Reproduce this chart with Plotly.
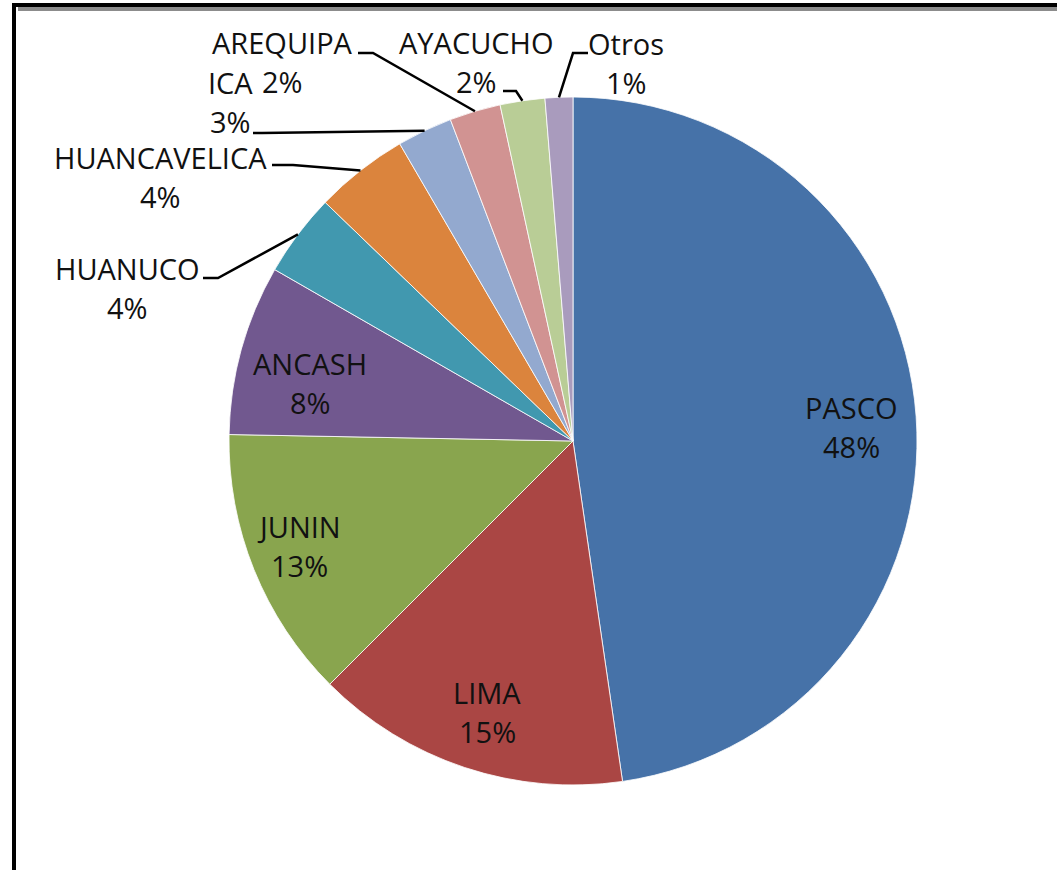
import math
import plotly.graph_objects as go

# ---- data ----
categories = ["PASCO", "LIMA", "JUNIN", "ANCASH", "HUANUCO", "HUANCAVELICA",
              "ICA", "AREQUIPA", "AYACUCHO", "Otros"]
values = [47.7, 14.8, 12.8, 8.0, 3.9, 4.4, 2.6, 2.4, 2.1, 1.3]
colors = ["#4672A8", "#AA4644", "#89A54E", "#71588F", "#4198AF", "#DB843D",
          "#93A9CF", "#D19392", "#B9CD96", "#A99BBD"]

# ---- layout geometry (pixels) ----
W, H = 1057, 870
CX, CY, R = 573, 441, 344
LINE_GAP = 39
FONT = dict(family="Open Sans, Arial, sans-serif", size=29, color="#111111")

# inside label centres
inside_pos = {
    "PASCO": (851, 427),
    "LIMA": (487, 712),
    "JUNIN": (299, 546),
    "ANCASH": (310, 383),
}
# outside label placement: text centre, line start, elbow
outside_pos = {
    "HUANUCO":      dict(c=(127, 288), s=(203, 278), e=(218, 278)),
    "HUANCAVELICA": dict(c=(160, 177), s=(272, 165), e=(293, 165)),
    "ICA":          dict(c=(230, 102), s=(253, 133), e=(262, 133)),
    "AREQUIPA":     dict(c=(282, 62),  s=(358, 53),  e=(373, 53)),
    "AYACUCHO":     dict(c=(476, 62),  s=(503, 91),  e=(516, 91)),
    "Otros":        dict(c=(626, 63),  s=(588, 53),  e=(573, 53)),
}


def px(x):
    return x / W


def py(y):
    return 1 - y / H


def label(x, y, name, pct):
    out = []
    for txt, dy in ((name, -LINE_GAP / 2), (f"{pct}%", LINE_GAP / 2)):
        out.append(dict(x=px(x), y=py(y + dy), xref="paper", yref="paper",
                        text=txt, showarrow=False, font=FONT,
                        xanchor="center", yanchor="middle", align="center"))
    return out


total = sum(values)
fig = go.Figure(go.Pie(
    labels=categories, values=values, sort=False, direction="clockwise",
    rotation=0, textinfo="none", hoverinfo="label+percent",
    marker=dict(colors=colors, line=dict(color="rgba(255,255,255,0.8)", width=1)),
    domain=dict(x=[px(CX - R), px(CX + R)], y=[py(CY + R), py(CY - R)]),
    showlegend=False,
))

annotations = []
shapes = []
cum = 0.0
for cat, v in zip(categories, values):
    mid = (cum + v / 2) / total * 2 * math.pi
    cum += v
    pct = round(v / total * 100)
    if cat in inside_pos:
        x, y = inside_pos[cat]
        annotations += label(x, y, cat, pct)
    else:
        p = outside_pos[cat]
        ax = CX + R * math.sin(mid)
        ay = CY - R * math.cos(mid)
        annotations += label(p["c"][0], p["c"][1], cat, pct)
        path = (f"M {px(p['s'][0])},{py(p['s'][1])} L {px(p['e'][0])},{py(p['e'][1])} "
                f"L {px(ax)},{py(ay)}")
        shapes.append(dict(type="path", path=path, xref="paper", yref="paper",
                           line=dict(color="black", width=2.5)))

# frame (cropped at right and bottom)
shapes.append(dict(type="line", xref="paper", yref="paper", x0=px(18), x1=px(W + 5),
                   y0=py(9), y1=py(9), line=dict(color="#8c8c8c", width=4)))
shapes.append(dict(type="line", xref="paper", yref="paper", x0=px(12), x1=px(W + 5),
                   y0=py(5), y1=py(5), line=dict(color="black", width=4)))
shapes.append(dict(type="line", xref="paper", yref="paper", x0=px(14), x1=px(14),
                   y0=py(3), y1=py(H + 5), line=dict(color="black", width=4)))

fig.update_layout(
    width=W, height=H, margin=dict(l=0, r=0, t=0, b=0),
    paper_bgcolor="white", plot_bgcolor="white",
    annotations=annotations, shapes=shapes,
)
fig.write_html("out.html", config={"displayModeBar": False},
               post_script="document.body.style.margin='0';document.body.style.overflow='hidden';")
